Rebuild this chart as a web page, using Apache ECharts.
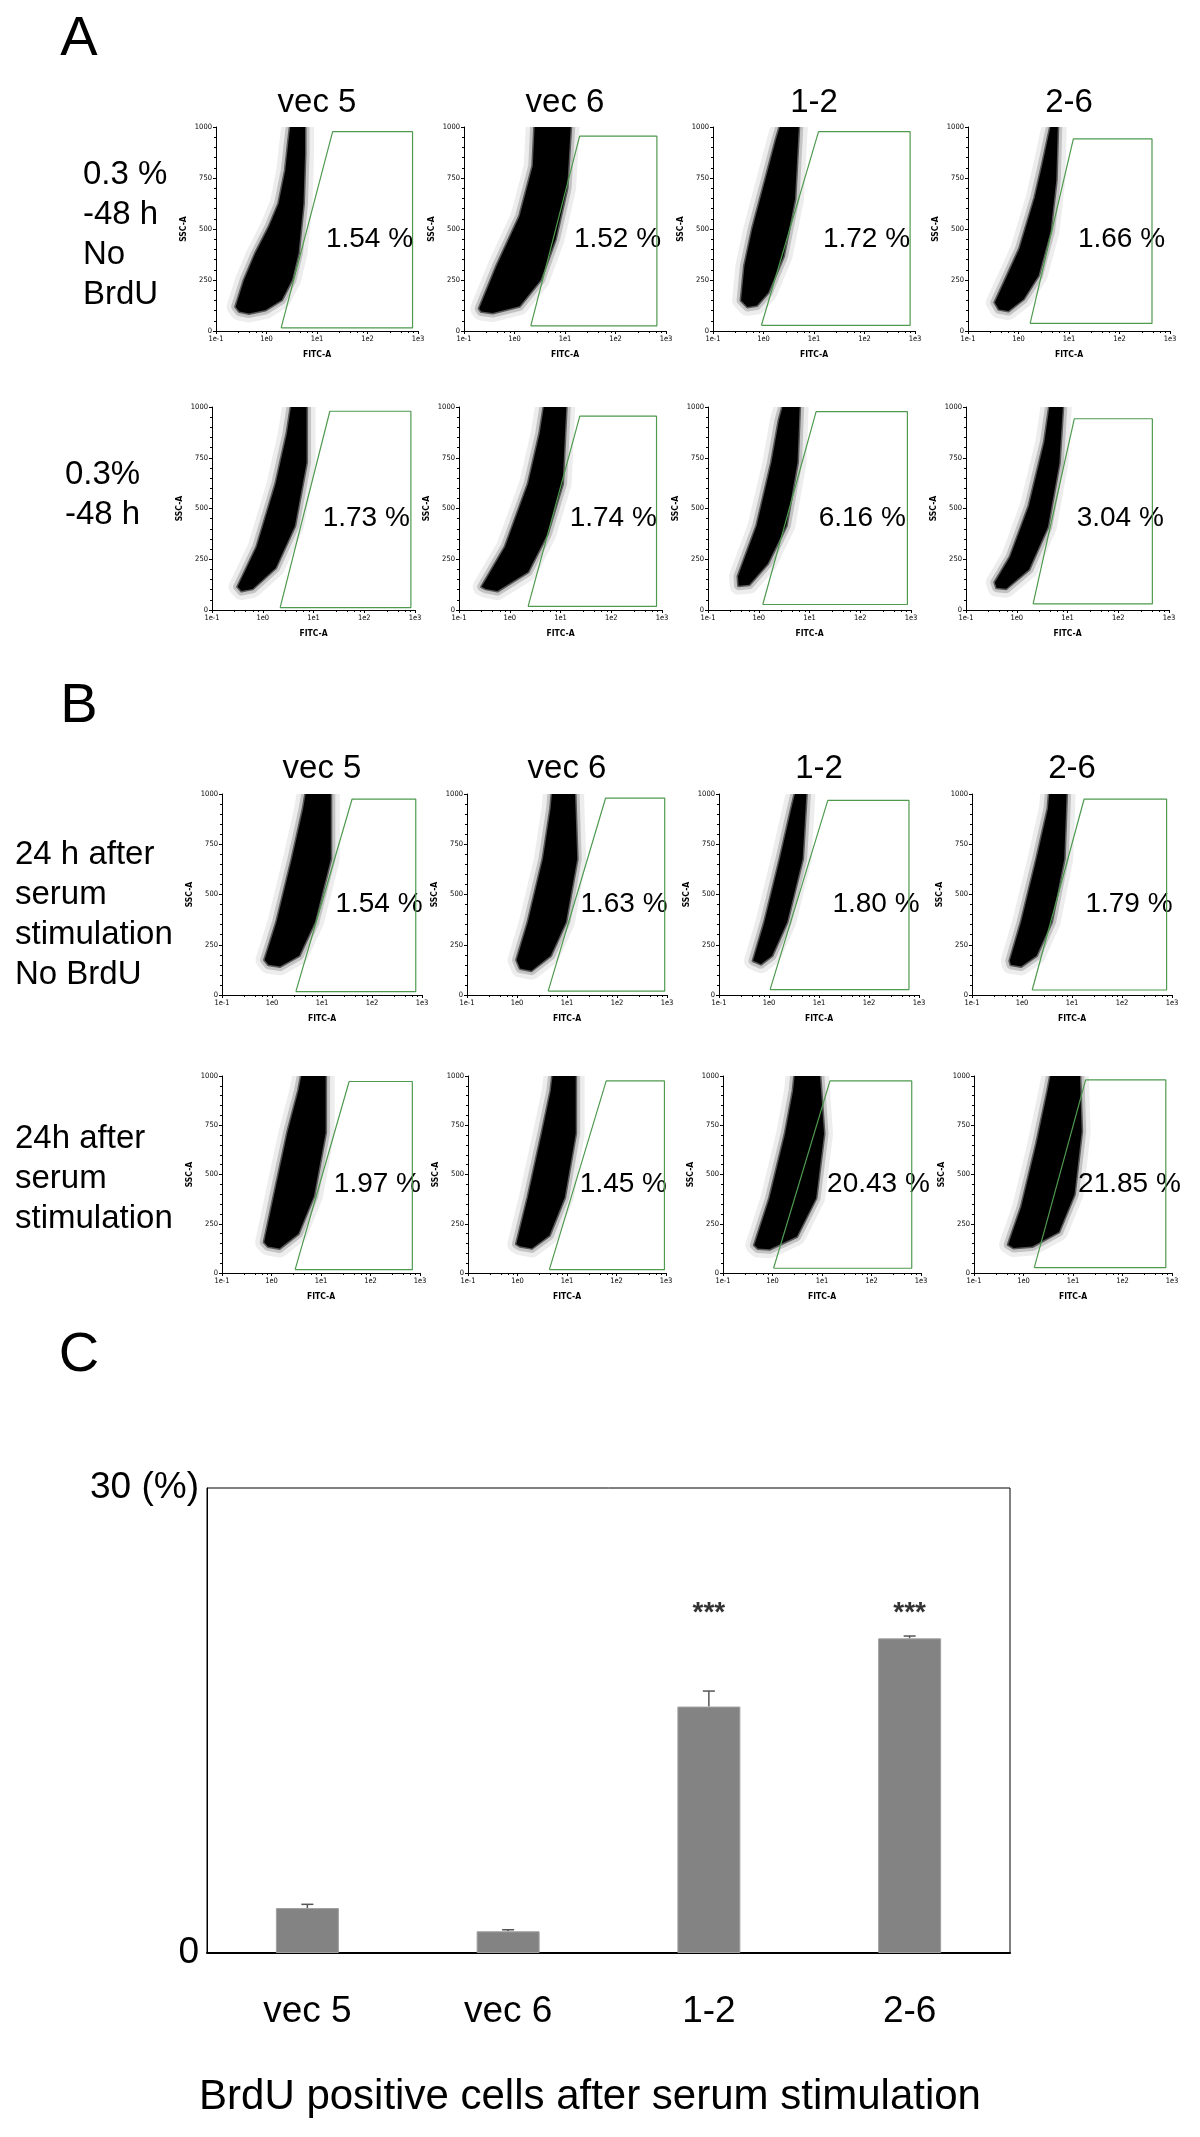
<!DOCTYPE html>
<html><head><meta charset="utf-8">
<script src="https://cdn.jsdelivr.net/npm/echarts@6/dist/echarts.min.js"></script>
<style>html,body{margin:0;padding:0;background:#fff}#c{width:1200px;height:2137px}</style>
</head><body><div id="c"></div>
<script>
// ---------- DATA ----------
const columnTitles = ['vec 5', 'vec 6', '1-2', '2-6'];
const rowLabelsA1 = ['0.3 %', '-48 h', 'No', 'BrdU'];
const rowLabelsA2 = ['0.3%', '-48 h'];
const rowLabelsB1 = ['24 h after', 'serum', 'stimulation', 'No BrdU'];
const rowLabelsB2 = ['24h after', 'serum', 'stimulation'];
const xTickLabels = ['1e-1', '1e0', '1e1', '1e2', '1e3'];

const percentA1 = ['1.54 %', '1.52 %', '1.72 %', '1.66 %'];
const percentA2 = ['1.73 %', '1.74 %', '6.16 %', '3.04 %'];
const percentB1 = ['1.54 %', '1.63 %', '1.80 %', '1.79 %'];
const percentB2 = ['1.97 %', '1.45 %', '20.43 %', '21.85 %'];

// gate: [bottom-left FITC, bottom SSC, top-left FITC, top SSC, right FITC]
const gatesA1 = [[1.95,15,20.4,977,780],[2.1,25,19.5,955,660],[0.91,28,12.3,977,800],[1.7,37,12.2,942,440]];
const gatesA2 = [[2.2,12,21,979,830],[2.3,18,24,955,780],[1.2,27,13.5,977,850],[2.1,30,13.6,942,470]];
const gatesB1 = [[3.0,17,40,975,750],[4.2,19,59,979,900],[1.05,27,15,968,630],[1.6,25,17.5,975,780]];
const gatesB2 = [[3.0,17,37,972,700],[4.4,17,62,975,930],[1.05,24,14.5,975,650],[1.65,27,18,980,750]];

// dense event cloud outlines: [FITC, SSC]
const cloudsA1 = [
  [[0.245,119],[0.36,250],[0.6,380],[1.12,511],[1.74,625],[2.36,788],[2.74,935],[2.95,1000],[5.8,1000],[5.8,870],[5.4,625],[4.3,380],[3.2,250],[2.0,152],[0.96,103],[0.45,86],[0.29,95]],
  [[0.2,110],[0.44,318],[1.26,563],[2.3,809],[2.5,1000],[13,1000],[11,700],[6.5,450],[3.3,250],[1.26,121],[0.37,88],[0.22,95]],
  [[0.36,150],[0.42,320],[0.6,500],[1.05,727],[1.77,939],[2.1,1000],[5,1000],[4.2,645],[2.5,367],[1.24,187],[0.74,125],[0.48,118]],
  [[0.34,140],[0.52,239],[1.05,405],[2.1,654],[3.0,821],[3.9,953],[4.3,1000],[6,1000],[5.6,738],[4.3,488],[2.5,272],[1.26,156],[0.63,98],[0.41,106]]
];
const cloudsA2 = [
  [[0.32,114],[0.76,311],[1.8,622],[3.0,871],[3.6,1000],[7.3,1000],[7.3,726],[4.3,415],[1.8,207],[0.63,104],[0.38,93]],
  [[0.28,114],[0.81,311],[2.3,622],[3.9,871],[4.7,1000],[13,1000],[11,622],[5.5,373],[2.3,187],[0.57,93],[0.34,104]],
  [[0.39,166],[0.91,415],[1.78,726],[2.5,934],[2.95,1000],[6.4,1000],[5.8,726],[3.5,415],[1.5,228],[0.65,124],[0.4,120]],
  [[0.37,136],[0.74,262],[1.74,514],[3.5,828],[4.4,1000],[8.1,1000],[6.9,723],[4.1,409],[1.74,199],[0.62,105],[0.4,110]]
];
const cloudsB1 = [
  [[0.71,174],[1.23,362],[2.5,676],[4.2,927],[4.7,1000],[15,1000],[15,676],[7.2,362],[3.5,195],[1.45,142],[0.85,150]],
  [[0.98,174],[1.65,362],[3.3,676],[4.7,927],[5,1000],[14.5,1000],[16,676],[9.5,362],[4.7,195],[1.95,121],[1.15,132]],
  [[0.48,170],[0.81,362],[1.65,676],[2.8,927],[3.3,1000],[5.6,1000],[4.7,676],[2.3,362],[1.15,195],[0.69,153]],
  [[0.57,170],[0.96,362],[1.95,676],[3.3,927],[3.5,1000],[7.8,1000],[7.0,676],[3.9,362],[1.95,195],[0.96,142],[0.6,150]]
];
const cloudsB2 = [
  [[0.71,156],[1.12,391],[2.1,712],[3.5,925],[4.0,1000],[12.4,1000],[12.4,712],[7.2,391],[3.5,199],[1.45,124],[0.85,135]],
  [[0.95,147],[1.62,384],[3.1,708],[4.7,924],[5.1,1000],[15,1000],[15,708],[9,384],[4.4,190],[1.95,125],[1.12,136]],
  [[0.43,141],[0.87,380],[1.8,707],[2.6,924],[2.8,1000],[9.1,1000],[11,707],[7.6,380],[3.1,185],[0.87,120],[0.51,124]],
  [[0.49,144],[0.9,335],[1.82,654],[3.1,930],[3.5,1000],[13.8,1000],[15,718],[10.7,399],[5.2,208],[1.5,134],[0.63,127]]
];

// panel C bar chart
const barCategories = ['vec 5', 'vec 6', '1-2', '2-6'];
const barValues = [2.9, 1.4, 15.9, 20.3];
const barErrors = [0.24, 0.1, 1.0, 0.15];
const sigMarks = ['', '', '***', '***'];
const sigLevel = 21.9;
const barYTicks = [0, 30];
const barTitle = 'BrdU positive cells after serum stimulation';

// ---------- LAYOUT ----------
const FONT = '"Liberation Sans", Arial, Helvetica, sans-serif';
const NARROW = '"Liberation Sans Narrow", "DejaVu Sans Condensed", sans-serif';
const ROWS = [
  {top:127, h:204, lefts:[216,464,713,968], w:202, fx:0.76, labels:rowLabelsA1, lx:83, ly:175, gates:gatesA1, clouds:cloudsA1, perc:percentA1},
  {top:407, h:203, lefts:[212,459,708,966], w:203, fx:0.76, labels:rowLabelsA2, lx:65, ly:475, gates:gatesA2, clouds:cloudsA2, perc:percentA2},
  {top:794, h:201, lefts:[222,467,719,972], w:200, fx:0.785, labels:rowLabelsB1, lx:15, ly:855, gates:gatesB1, clouds:cloudsB1, perc:percentB1},
  {top:1076, h:197, lefts:[222,468,723,974], w:198, fx:0.785, labels:rowLabelsB2, lx:15, ly:1139, gates:gatesB2, clouds:cloudsB2, perc:percentB2}
];

const grid = [], xAxis = [], yAxis = [], series = [], graphic = [];
function txt(x, y, s, size, align, family, weight) {
  graphic.push({type:'text', x:x, y:y, silent:true,
    style:{text:s, fontSize:size, fontFamily:family || FONT, fontWeight:weight || 'normal', fill:'#000',
      align:align || 'center', verticalAlign:'middle', textAlign:align || 'center', textVerticalAlign:'middle'}});
}

txt(79, 40, 'A', 56);
txt(79, 707, 'B', 56);
txt(79, 1356, 'C', 56);

const titleY = [103, null, 769, null];

ROWS.forEach((row, r) => {
  row.labels.forEach((s, k) => txt(row.lx, row.ly + k * 40, s, 33, 'left'));
  row.lefts.forEach((left, c) => {
    const gi = grid.length;
    grid.push({left:left, top:row.top, width:row.w, height:row.h, show:false});
    xAxis.push({
      gridIndex:gi, type:'log', logBase:10, min:0.1, max:1000,
      axisLine:{show:true, lineStyle:{color:'#000', width:1}},
      axisTick:{show:true, length:3, lineStyle:{color:'#000'}},
      minorTick:{show:true, length:2, lineStyle:{color:'#000'}},
      splitLine:{show:false}, minorSplitLine:{show:false},
      axisLabel:{fontSize:7.5, fontFamily:NARROW, color:'#000', margin:4,
        formatter:v => xTickLabels[Math.round(Math.log10(v)) + 1]},
      name:'FITC-A', nameLocation:'middle', nameGap:19,
      nameTextStyle:{fontSize:8.5, fontWeight:'bold', fontFamily:NARROW, color:'#000'}
    });
    yAxis.push({
      gridIndex:gi, type:'value', min:0, max:1000, interval:250,
      axisLine:{show:true, lineStyle:{color:'#000', width:1}},
      axisTick:{show:true, length:3, lineStyle:{color:'#000'}},
      minorTick:{show:true, length:2, splitNumber:5, lineStyle:{color:'#000'}},
      splitLine:{show:false},
      axisLabel:{fontSize:7.5, fontFamily:NARROW, color:'#000', margin:4, formatter:v => String(v)},
      name:'SSC-A', nameLocation:'middle', nameGap:28, nameRotate:90,
      nameTextStyle:{fontSize:8.5, fontWeight:'bold', fontFamily:NARROW, color:'#000'}
    });
    const pts = row.clouds[c];
    series.push({
      type:'custom', xAxisIndex:gi, yAxisIndex:gi, clip:true, silent:true, animation:false,
      data:pts,
      renderItem:(params, api) => {
        if (params.dataIndex !== 0) return null;
        const poly = pts.map(p => api.coord(p));
        return {type:'group', children:[
          {type:'polygon', shape:{points:poly}, style:{fill:'none', stroke:'rgba(0,0,0,0.07)', lineWidth:18, lineJoin:'round'}},
          {type:'polygon', shape:{points:poly}, style:{fill:'none', stroke:'rgba(0,0,0,0.18)', lineWidth:9, lineJoin:'round'}},
          {type:'polygon', shape:{points:poly}, style:{fill:'#000', stroke:'rgba(0,0,0,0.55)', lineWidth:3, lineJoin:'round'}}
        ]};
      }
    });
    const g = row.gates[c];
    series.push({
      type:'line', xAxisIndex:gi, yAxisIndex:gi, symbol:'none', silent:true, animation:false,
      lineStyle:{color:'#4f9a4f', width:1.2},
      data:[[g[0], g[1]], [g[2], g[3]], [g[4], g[3]], [g[4], g[1]], [g[0], g[1]]]
    });
    if (titleY[r] !== null) txt(left + row.w / 2, titleY[r], columnTitles[c], 33);
    txt(left + row.w * row.fx, row.top + row.h * 0.55, row.perc[c], 28);
  });
});

// ---------- PANEL C ----------
const bi = grid.length;
grid.push({left:207, top:1488, width:803, height:465, show:true, borderColor:'#000', borderWidth:1});
xAxis.push({
  gridIndex:bi, type:'category', data:barCategories,
  axisLine:{show:true, lineStyle:{color:'#000', width:2}},
  axisTick:{show:false},
  axisLabel:{fontSize:37, fontFamily:FONT, color:'#000', margin:40}
});
yAxis.push({
  gridIndex:bi, type:'value', min:barYTicks[0], max:barYTicks[1], interval:barYTicks[1] - barYTicks[0],
  axisLine:{show:true, lineStyle:{color:'#000', width:1}},
  axisTick:{show:false}, splitLine:{show:false},
  axisLabel:{fontSize:37, fontFamily:FONT, color:'#000', margin:8,
    formatter:v => v === barYTicks[1] ? v + ' (%)' : String(v)}
});
series.push({
  type:'bar', xAxisIndex:bi, yAxisIndex:bi, data:barValues, barWidth:63, animation:false,
  itemStyle:{color:'#838383', borderColor:'#a0a0a0', borderWidth:1}
});
series.push({
  type:'custom', xAxisIndex:bi, yAxisIndex:bi, animation:false, silent:true,
  data:barValues.map((v, i) => [i, v, barErrors[i]]),
  renderItem:(params, api) => {
    const i = api.value(0), v = api.value(1), e = api.value(2);
    const base = api.coord([i, v]);
    const tip = api.coord([i, v + e]);
    const hw = 6;
    return {type:'group', children:[
      {type:'line', shape:{x1:base[0], y1:base[1], x2:tip[0], y2:tip[1]}, style:{stroke:'#555', lineWidth:1.5}},
      {type:'line', shape:{x1:tip[0] - hw, y1:tip[1], x2:tip[0] + hw, y2:tip[1]}, style:{stroke:'#555', lineWidth:1.5}}
    ]};
  }
});
series.push({
  type:'scatter', xAxisIndex:bi, yAxisIndex:bi, symbolSize:0, silent:true, animation:false,
  data:sigMarks.map((s, i) => ({value:[i, sigLevel], mark:s})).filter(d => d.mark),
  label:{show:true, position:'inside', formatter:p => p.data.mark, fontSize:28, fontWeight:'bold', fontFamily:FONT, color:'#000'}
});
txt(590, 2097, barTitle, 42);

const chart = echarts.init(document.getElementById('c'), null, {renderer:'canvas'});
chart.setOption({animation:false, grid, xAxis, yAxis, series, graphic});
</script>
</body></html>
